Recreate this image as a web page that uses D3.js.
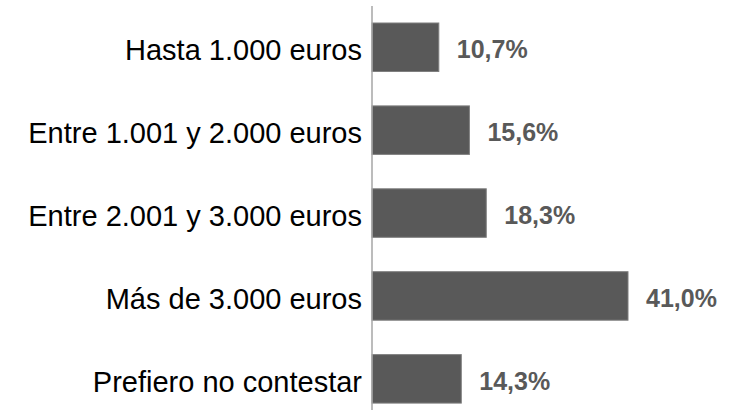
<!DOCTYPE html>
<html><head><meta charset="utf-8">
<script src="https://cdn.jsdelivr.net/npm/d3@7"></script>
<style>body{margin:0;background:#fff;}svg{display:block;}</style>
</head><body>
<svg id="c" width="738" height="413"></svg>
<script>
const categories = ["Hasta 1.000 euros","Entre 1.001 y 2.000 euros","Entre 2.001 y 3.000 euros","Más de 3.000 euros","Prefiero no contestar"];
const values = [10.7, 15.6, 18.3, 41.0, 14.3];
const valueLabels = ["10,7%","15,6%","18,3%","41,0%","14,3%"];

const svg = d3.select("#c");
const x0 = 372;
const x = d3.scaleLinear().domain([0, 41.0]).range([x0, 628]);
const y = d3.scaleBand().domain(categories).range([5.8, 420.3]).paddingInner(0.415).paddingOuter(0.2075);

svg.selectAll("rect.bar").data(values).join("rect")
  .attr("class","bar")
  .attr("x", x0)
  .attr("y", (d,i)=>y(categories[i]))
  .attr("width", d=>x(d)-x0)
  .attr("height", y.bandwidth())
  .attr("fill","#595959")
  .attr("stroke","#7f7f7f")
  .attr("stroke-width",1);

svg.append("line").attr("x1",x0).attr("x2",x0).attr("y1",6).attr("y2",410)
  .attr("stroke","#a6a6a6").attr("stroke-width",1.5);

svg.selectAll("text.cat").data(categories).join("text")
  .attr("class","cat")
  .attr("x", 362)
  .attr("y", d=>y(d)+y.bandwidth()/2+13)
  .attr("text-anchor","end")
  .attr("font-family","'Liberation Sans', Arial, sans-serif")
  .attr("font-size", 29)
  .attr("fill","#000")
  .text(d=>d);

svg.selectAll("text.val").data(values).join("text")
  .attr("class","val")
  .attr("x", d=>x(d)+18)
  .attr("y", (d,i)=>y(categories[i])+y.bandwidth()/2+11)
  .attr("font-family","'Liberation Sans', Arial, sans-serif")
  .attr("font-size", 25)
  .attr("font-weight","bold")
  .attr("fill","#595959")
  .text((d,i)=>valueLabels[i]);
</script>
</body></html>
